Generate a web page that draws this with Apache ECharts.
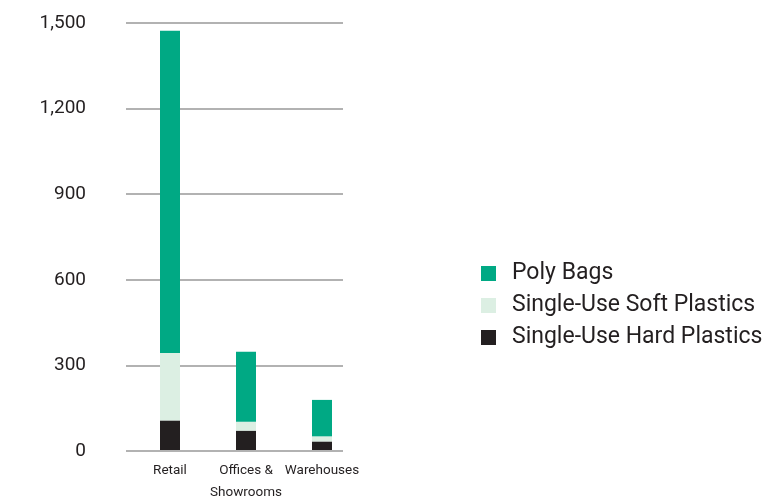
<!DOCTYPE html>
<html><head><meta charset="utf-8">
<script src="https://cdn.jsdelivr.net/npm/echarts@6/dist/echarts.min.js"></script>
<style>html,body{margin:0;padding:0;background:#fff}#c{width:774px;height:504px}</style>
</head><body><div id="c"></div>
<script>
const categories = ['Retail', 'Offices & Showrooms', 'Warehouses'];
const hardPlastics = [104, 68, 30];
const softPlastics = [237, 31, 18];
const polyBags = [1132, 246, 128];
const yTicks = [0, 300, 600, 900, 1200, 1500];

const FONT = "'Roboto', 'Liberation Sans', sans-serif";
const colors = { poly: '#00A984', soft: '#DCEFE3', hard: '#231F20' };

const chart = echarts.init(document.getElementById('c'), null, { renderer: 'canvas' });
chart.setOption({
  animation: false,
  backgroundColor: '#fff',
  grid: [
    { left: 126, width: 217, top: 23, height: 428, containLabel: false },
    { left: 132, width: 228, top: 23, height: 428, containLabel: false }
  ],
  xAxis: [
    { gridIndex: 0, type: 'category', data: categories, show: false },
    { gridIndex: 1, type: 'category', data: categories,
      axisLine: { show: false }, axisTick: { show: false },
      axisLabel: { interval: 0, color: '#231F20', fontSize: 13.5, fontFamily: FONT, margin: 10, lineHeight: 22,
        formatter: v => v.replace('& ', '&\n') } }
  ],
  yAxis: [
    { gridIndex: 0, type: 'value', min: yTicks[0], max: yTicks[yTicks.length - 1], interval: 300,
      axisLine: { show: false }, axisTick: { show: false },
      splitLine: { lineStyle: { color: '#999', width: 1.5 } },
      axisLabel: { color: '#231F20', fontSize: 19, fontFamily: FONT, margin: 40, padding: [8, 0, 0, 0],
        formatter: v => v.toLocaleString('en-US') } },
    { gridIndex: 1, type: 'value', min: yTicks[0], max: yTicks[yTicks.length - 1], show: false }
  ],
  legend: {
    orient: 'vertical', left: 476, top: 257,
    data: ['Poly Bags', 'Single-Use Soft Plastics', 'Single-Use Hard Plastics'],
    icon: 'rect', itemWidth: 15, itemHeight: 15, itemGap: 9,
    textStyle: { color: '#231F20', fontSize: 23, fontFamily: FONT, padding: [0, 0, 0, 11], lineHeight: 23 }
  },
  series: [
    { name: 'Single-Use Hard Plastics', type: 'bar', stack: 's', xAxisIndex: 1, yAxisIndex: 1,
      data: hardPlastics, barWidth: 20, itemStyle: { color: colors.hard } },
    { name: 'Single-Use Soft Plastics', type: 'bar', stack: 's', xAxisIndex: 1, yAxisIndex: 1,
      data: softPlastics, barWidth: 20, itemStyle: { color: colors.soft } },
    { name: 'Poly Bags', type: 'bar', stack: 's', xAxisIndex: 1, yAxisIndex: 1,
      data: polyBags, barWidth: 20, itemStyle: { color: colors.poly } }
  ]
});
</script></body></html>
